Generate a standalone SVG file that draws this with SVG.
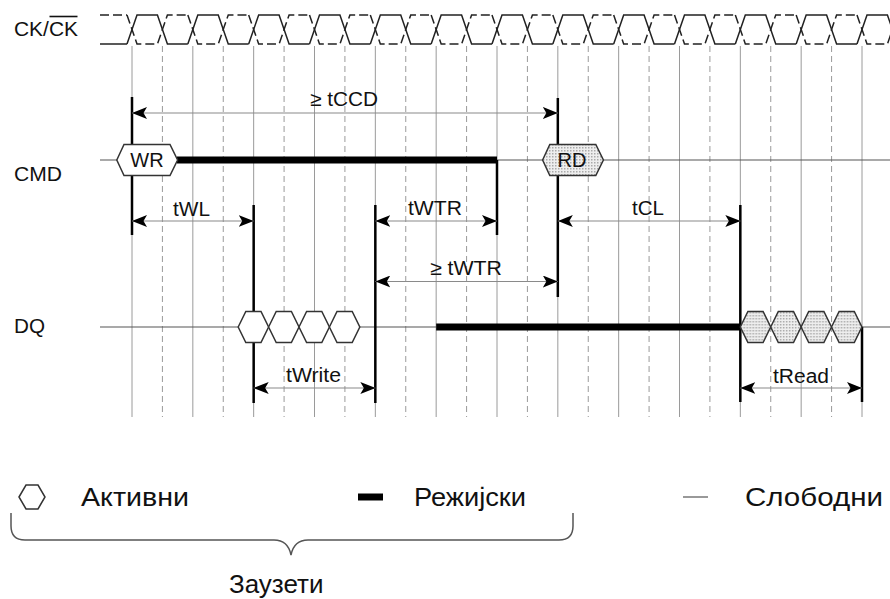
<svg xmlns="http://www.w3.org/2000/svg" width="890" height="599" viewBox="0 0 890 599">
<defs>
<style>
text{font-family:"Liberation Sans",Arial,"Noto Sans CJK SC",sans-serif;fill:#111;}
.lbl{font-size:20px;}
.leg{font-size:26px;}
.g{stroke:#9a9a9a;stroke-width:1;fill:none}
.gd{stroke:#9a9a9a;stroke-width:1;stroke-dasharray:6 4;fill:none}
.ck{stroke:#222;stroke-width:1.5;fill:none}
.ckd{stroke:#222;stroke-width:1.5;fill:none;stroke-dasharray:9 4}
.sig{stroke:#555;stroke-width:1.2;fill:none}
.bar{stroke:#000;stroke-width:7;fill:none}
.mk{stroke:#000;stroke-width:2.5;fill:none}
.arr{stroke:#8a8a8a;stroke-width:1.2;fill:none;marker-start:url(#ah);marker-end:url(#ah)}
.hx{fill:#fff;stroke:#333;stroke-width:1.5}
.hxg{fill:url(#dots);stroke:#333;stroke-width:1.5}
</style>
<marker id="ah" viewBox="0 0 15 12" refX="15" refY="6" markerWidth="15" markerHeight="12" markerUnits="userSpaceOnUse" orient="auto-start-reverse"><path d="M0,0 L15,6 L0,12 L3.5,6 Z" fill="#000"/></marker>
<pattern id="dots" width="3" height="3" patternUnits="userSpaceOnUse"><rect width="3" height="3" fill="#eee"/><rect width="1.5" height="1.5" fill="#aaa"/></pattern>
<path id="cks" d="M-5,44 L5,15 L25.42,15 L35.42,44 L55.83,44"/>
<path id="ckc" d="M-5,15 L5,44 L25.42,44 L35.42,15 L55.83,15"/>
<polygon id="hex" points="-15.2,0 -7.6,-15.5 7.6,-15.5 15.2,0 7.6,15.5 -7.6,15.5"/>
</defs>
<rect width="890" height="599" fill="#fff"/>

<g id="grid">
<path class="g" d="M132,46V417M192.83,46V417M253.67,46V417M314.5,46V417M375.33,46V417M436.17,46V417M497,46V417M557.83,46V417M618.67,46V417M679.5,46V417M740.33,46V417M801.17,46V417M862,46V417"/>
<path class="gd" d="M162.42,46V417M223.25,46V417M284.08,46V417M344.92,46V417M405.75,46V417M466.58,46V417M527.42,46V417M588.25,46V417M649.08,46V417M709.92,46V417M770.75,46V417M831.58,46V417"/>
</g>

<g id="clock">
<text class="lbl" x="14" y="36" textLength="64" lengthAdjust="spacingAndGlyphs">CK/CK</text>
<line x1="49.5" y1="16.5" x2="77.5" y2="16.5" stroke="#111" stroke-width="1.6"/>
<path class="ck" d="M100,44H127"/>
<path class="ckd" d="M100,15H127"/>
<g class="ck">
<use href="#cks" x="132"/><use href="#cks" x="192.83"/><use href="#cks" x="253.67"/><use href="#cks" x="314.5"/><use href="#cks" x="375.33"/><use href="#cks" x="436.17"/><use href="#cks" x="497"/><use href="#cks" x="557.83"/><use href="#cks" x="618.67"/><use href="#cks" x="679.5"/><use href="#cks" x="740.33"/><use href="#cks" x="801.17"/><use href="#cks" x="862"/>
</g>
<g class="ckd">
<use href="#ckc" x="132"/><use href="#ckc" x="192.83"/><use href="#ckc" x="253.67"/><use href="#ckc" x="314.5"/><use href="#ckc" x="375.33"/><use href="#ckc" x="436.17"/><use href="#ckc" x="497"/><use href="#ckc" x="557.83"/><use href="#ckc" x="618.67"/><use href="#ckc" x="679.5"/><use href="#ckc" x="740.33"/><use href="#ckc" x="801.17"/><use href="#ckc" x="862"/>
</g>
</g>

<g id="cmd">
<text class="lbl" x="14" y="181" textLength="48" lengthAdjust="spacingAndGlyphs">CMD</text>
<path class="sig" d="M100,160H117M497,160H543M603,160H890"/>
<path class="bar" d="M177,160H497"/>
</g>

<g id="dq">
<text class="lbl" x="14" y="333" textLength="31" lengthAdjust="spacingAndGlyphs">DQ</text>
<path class="sig" d="M100,327H238M359.5,327H436M862,327H890"/>
<path class="bar" d="M436.17,327H740.33"/>
</g>

<g id="connectors">
<path class="mk" d="M132,97V235M497,160V235M557.83,98V297M253.67,205V403M375.33,205V403M740.33,205V402M862,327V402"/>
<path class="arr" d="M132,113H557.83"/>
<path class="arr" d="M132,221H253.67"/>
<path class="arr" d="M375.33,221H497"/>
<path class="arr" d="M557.83,221H740.33"/>
<path class="arr" d="M375.33,281.5H557.83"/>
<path class="arr" d="M253.67,388H375.33"/>
<path class="arr" d="M740.33,388H862"/>
</g>

<g id="wr">
<polygon class="hx" points="116.8,160 124,144.5 170,144.5 177.6,160 170,175.5 124,175.5"/>
<text class="lbl" x="147" y="167" text-anchor="middle">WR</text>
</g>
<g id="rd">
<polygon class="hxg" points="542.6,160 549.8,144.5 595.8,144.5 603.4,160 595.8,175.5 549.8,175.5"/>
<text class="lbl" x="572" y="167" text-anchor="middle">RD</text>
</g>

<g id="write-data" class="hx">
<use href="#hex" x="253.4" y="327"/><use href="#hex" x="283.8" y="327"/><use href="#hex" x="314.2" y="327"/><use href="#hex" x="344.6" y="327"/>
</g>
<g id="read-data" class="hxg">
<use href="#hex" x="755.5" y="327"/><use href="#hex" x="785.9" y="327"/><use href="#hex" x="816.3" y="327"/><use href="#hex" x="846.7" y="327"/>
</g>

<g id="timing-labels">
<text class="lbl" x="310" y="106" textLength="68" lengthAdjust="spacingAndGlyphs">≥ tCCD</text>
<text class="lbl" x="173" y="216" textLength="37" lengthAdjust="spacingAndGlyphs">tWL</text>
<text class="lbl" x="408" y="215" textLength="54" lengthAdjust="spacingAndGlyphs">tWTR</text>
<text class="lbl" x="632" y="215" textLength="32" lengthAdjust="spacingAndGlyphs">tCL</text>
<text class="lbl" x="430" y="275" textLength="72" lengthAdjust="spacingAndGlyphs">≥ tWTR</text>
<text class="lbl" x="286" y="382" textLength="55" lengthAdjust="spacingAndGlyphs">tWrite</text>
<text class="lbl" x="773" y="383" textLength="56" lengthAdjust="spacingAndGlyphs">tRead</text>
</g>

<g id="legend">
<polygon class="hx" points="19,497 26,485 38,485 45,497 38,509 26,509"/>
<text class="leg" x="81" y="506" textLength="108" lengthAdjust="spacingAndGlyphs">Активни</text>
<path class="bar" d="M358,497H383"/>
<text class="leg" x="414" y="506" textLength="112" lengthAdjust="spacingAndGlyphs">Режијски</text>
<path class="sig" d="M683,497H708"/>
<text class="leg" x="745" y="506" textLength="138" lengthAdjust="spacingAndGlyphs">Слободни</text>
<path d="M11,513V526Q11,540 25,540H274Q288,540 291,555Q294,540 308,540H559Q573,540 573,526V513" fill="none" stroke="#555" stroke-width="1.5"/>
<text class="leg" x="229" y="593">Заузети</text>
</g>
</svg>
